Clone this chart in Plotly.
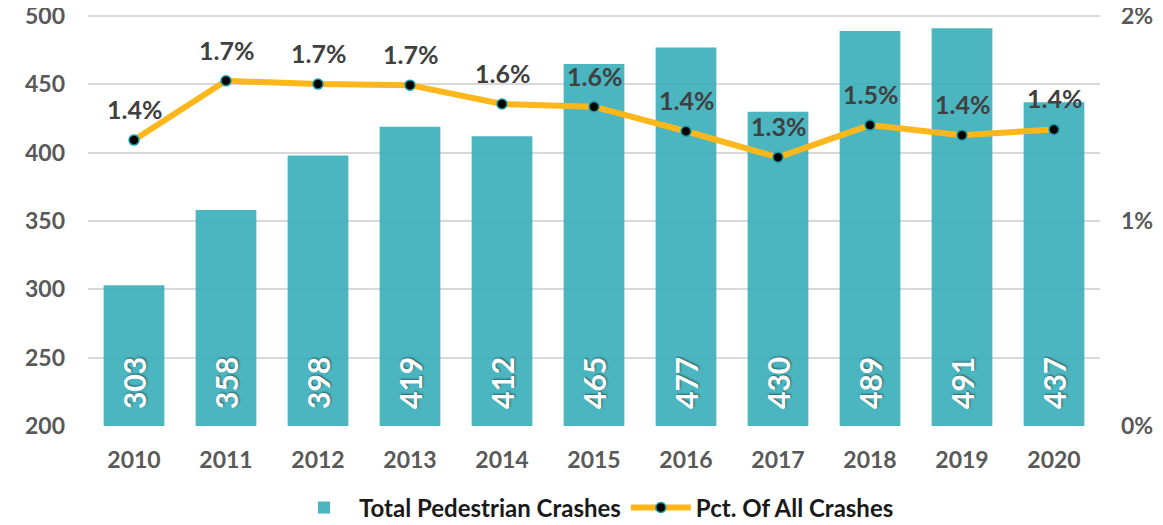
import plotly.graph_objects as go

years = ["2010", "2011", "2012", "2013", "2014", "2015", "2016", "2017", "2018", "2019", "2020"]
crashes = [303, 358, 398, 419, 412, 465, 477, 430, 489, 491, 437]
pct = [0.01395, 0.01684, 0.01668, 0.01663, 0.01571, 0.01558, 0.01438, 0.01311, 0.01468, 0.01419, 0.01447]

FONT = "Lato"
GRAY = "#595959"
Y_MIN, Y_MAX, PAD = 200, 500, 1.5
P_MAX = 0.02

fig = go.Figure()
fig.add_trace(go.Bar(
    x=years, y=crashes, name="Total Pedestrian Crashes",
    marker=dict(color="rgba(55,173,185,0.9)", line=dict(width=0)),
    width=0.66, yaxis="y",
))
fig.add_trace(go.Scatter(
    x=years, y=pct, name="Pct. Of All Crashes", yaxis="y2",
    mode="lines+markers",
    line=dict(color="#FDB71A", width=6),
    marker=dict(color="black", size=10, line=dict(color="#1A9AA8", width=1.5)),
))

annotations = []
for i, v in enumerate(crashes):
    annotations.append(dict(
        x=i, y=Y_MIN, xref="x", yref="y", text=str(v), showarrow=False,
        textangle=-90, yanchor="bottom", yshift=15,
        font=dict(family=FONT, size=30, color="white", weight="bold",
                  shadow="1px 1px 2px rgba(0,0,0,0.45)"),
    ))
for i, p in enumerate(pct):
    annotations.append(dict(
        x=i, y=p, xref="x", yref="y2", text=f"{p*100:.1f}%", showarrow=False,
        yanchor="middle", yshift=31,
        font=dict(family=FONT, size=25, color="#404040", weight="bold"),
    ))

fig.update_layout(
    width=1155, height=517,
    margin=dict(l=80, r=63, t=6, b=99, autoexpand=False),
    paper_bgcolor="white", plot_bgcolor="white",
    showlegend=True,
    legend=dict(orientation="h", x=0.5, xanchor="center", yref="container", y=0.033,
                yanchor="middle",
                font=dict(family=FONT, size=24, color="#1a1a1a", weight="bold"),
                itemwidth=60),
    xaxis=dict(type="category", range=[-0.5, 10.5], showgrid=False, showline=False, ticks="",
               automargin=False,
               tickfont=dict(family=FONT, size=23, color=GRAY, weight="bold"),
               ticklabelstandoff=18),
    yaxis=dict(range=[Y_MIN, Y_MAX + PAD], tick0=200, dtick=50, showgrid=True,
               gridcolor="#d9d9d9", gridwidth=1.5,
               zeroline=False, showline=False, ticks="", automargin=False,
               ticklabeloverflow="allow",
               tickfont=dict(family=FONT, size=23, color=GRAY, weight="bold"),
               ticklabelstandoff=22),
    yaxis2=dict(range=[0, P_MAX * (Y_MAX + PAD - Y_MIN) / (Y_MAX - Y_MIN)], dtick=0.01,
                tickformat=".0%", overlaying="y", side="right",
                showgrid=False, zeroline=False, showline=False, ticks="", automargin=False,
                ticklabeloverflow="allow",
                tickfont=dict(family=FONT, size=23, color=GRAY, weight="bold"),
                ticklabelstandoff=20),
    annotations=annotations,
)

fig.write_html("out.html")
